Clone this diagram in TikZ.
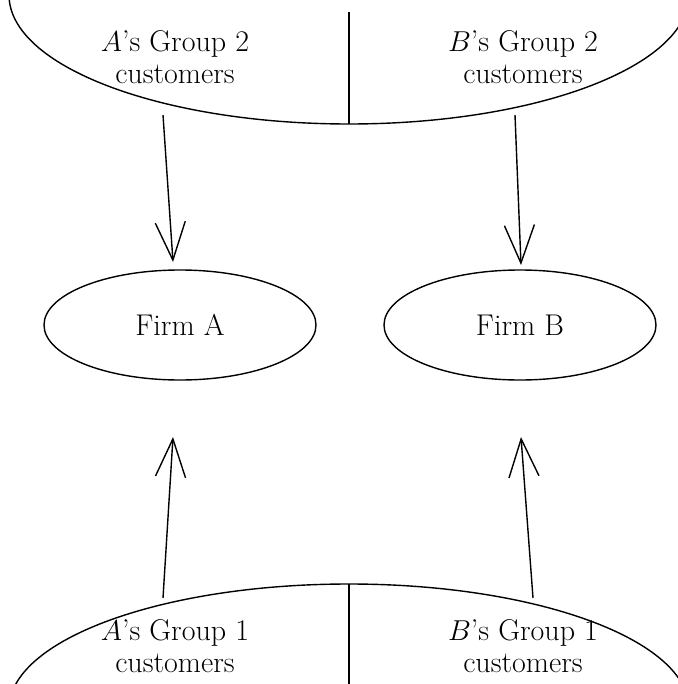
\documentclass[tikz,border=0pt]{standalone}
\usetikzlibrary{shapes.geometric,arrows.meta}
\begin{document}
\begin{tikzpicture}[x=0.5pt,y=-0.5pt,
  every node/.style={font=\fontsize{15}{16.2}\selectfont},
  lbl/.style={align=center,inner sep=0pt},
  firm/.style={draw,ellipse,line width=0.7pt,minimum width=136pt,minimum height=55pt},
  line/.style={line width=0.7pt},
  arr/.style={line width=0.7pt,-{Straight Barb[length=19pt,width=15pt,line width=0.7pt]}}]
\useasboundingbox (0,0) rectangle (678,684);
\begin{scope}
\clip (0,0) rectangle (678,684);
\draw[line] (349,-5) ellipse [x radius=170pt, y radius=64.5pt];
\draw[line] (349,709) ellipse [x radius=170pt, y radius=62.5pt];
\end{scope}
\coordinate (t1) at (349,12);
\coordinate (t2) at (349,124);
\coordinate (b1) at (349,584);
\coordinate (b2) at (349,684);
\draw[line] (t1) -- (t2);
\draw[line] (b1) -- (b2);
\node[lbl] (ta) at (175,57) {$A$'s Group 2\\customers};
\node[lbl] (tb) at (523,57) {$B$'s Group 2\\customers};
\node[lbl] (ba) at (175,646) {$A$'s Group 1\\customers};
\node[lbl] (bb) at (523,646) {$B$'s Group 1\\customers};
\node[firm] (fa) at (180,325) {Firm A};
\node[firm] (fb) at (520,325) {Firm B};
\coordinate (s1) at (163,115);
\coordinate (e1) at (173,262);
\coordinate (s2) at (515,115);
\coordinate (e2) at (521,265);
\coordinate (s3) at (163,598);
\coordinate (e3) at (173,437);
\coordinate (s4) at (533,598);
\coordinate (e4) at (521,437);
\draw[arr] (s1) -- (e1);
\draw[arr] (s2) -- (e2);
\draw[arr] (s3) -- (e3);
\draw[arr] (s4) -- (e4);
\end{tikzpicture}
\end{document}
